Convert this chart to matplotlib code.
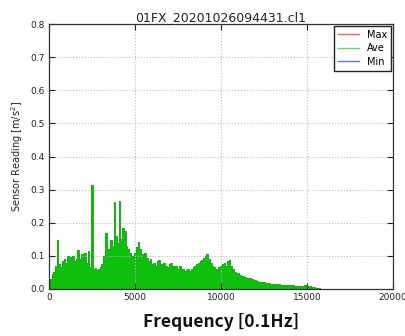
import matplotlib
matplotlib.use("Agg")
import matplotlib.pyplot as plt
import numpy as np

# Spectrum readings, one value per 100 x 0.1Hz bin (0 .. 16000)
freq = np.arange(0, 16001, 100)
ave = [
    0.010, 0.030, 0.045, 0.050, 0.070, 0.148, 0.075, 0.065, 0.085, 0.090,
    0.080, 0.100, 0.098, 0.095, 0.100, 0.085, 0.090, 0.118, 0.090, 0.105,
    0.085, 0.110, 0.080, 0.115, 0.065, 0.315, 0.060, 0.062, 0.058, 0.060,
    0.065, 0.075, 0.100, 0.170, 0.115, 0.120, 0.148, 0.130, 0.263, 0.160,
    0.140, 0.266, 0.150, 0.185, 0.175, 0.130, 0.120, 0.110, 0.095, 0.100,
    0.110, 0.128, 0.143, 0.120, 0.105, 0.100, 0.110, 0.095, 0.085, 0.090,
    0.075, 0.080, 0.070, 0.085, 0.088, 0.075, 0.072, 0.080, 0.070, 0.065,
    0.075, 0.080, 0.070, 0.065, 0.070, 0.060, 0.068, 0.055, 0.060, 0.055,
    0.058, 0.060, 0.055, 0.060, 0.065, 0.070, 0.075, 0.080, 0.085, 0.088,
    0.095, 0.100, 0.105, 0.090, 0.080, 0.070, 0.065, 0.060, 0.058, 0.065,
    0.070, 0.075, 0.080, 0.070, 0.085, 0.088, 0.070, 0.060, 0.050, 0.045,
    0.048, 0.042, 0.040, 0.038, 0.035, 0.033, 0.030, 0.032, 0.030, 0.027,
    0.028, 0.025, 0.022, 0.022, 0.020, 0.020, 0.018, 0.018, 0.017, 0.016,
    0.016, 0.015, 0.015, 0.014, 0.014, 0.013, 0.013, 0.012, 0.012, 0.012,
    0.011, 0.011, 0.011, 0.010, 0.010, 0.010, 0.010, 0.010, 0.010, 0.011,
    0.010, 0.009, 0.008, 0.006, 0.005, 0.004, 0.003, 0.002, 0.0015, 0.001,
    0.0005,
]

title = "01FX_20201026094431.cl1"
xticks = [0, 5000, 10000, 15000, 20000]
yticks = [0.0, 0.1, 0.2, 0.3, 0.4, 0.5, 0.6, 0.7, 0.8]
series_names = ["Max", "Ave", "Min"]
series_colors = ["#e86a6a", "#6ad26a", "#7070e0"]
green = "#0cc00c"

fig = plt.figure(figsize=(4.05, 3.36), dpi=100)
ax = fig.add_axes([49 / 405, 1 - 289 / 336, 344 / 405, 265 / 336])

ax.fill_between(freq, 0, ave, step="mid", color=green, linewidth=0)
ax.step(freq, ave, where="mid", color="#12b012", linewidth=0.7)

# legend entries
handles = []
for name, c in zip(series_names, series_colors):
    h, = ax.plot([], [], color=c, linewidth=1.0, label=name)
    handles.append(h)
leg = ax.legend(handles=handles, loc="upper right", fontsize=7,
                fancybox=False, framealpha=1, edgecolor="#222222",
                borderaxespad=0.2, handlelength=2.2, labelspacing=0.35,
                borderpad=0.4, handletextpad=0.8)
leg.get_frame().set_linewidth(1.0)

ax.set_xlim(0, 20000)
ax.set_ylim(0, 0.8)
ax.set_xticks(xticks)
ax.set_yticks(yticks)
ax.set_yticklabels([f"{v:.1f}" for v in yticks])
ax.tick_params(direction="in", length=4, width=0.8, labelsize=6.5,
               colors="#222222", top=True, right=True, pad=3)
ax.grid(True, linestyle=":", color="#bbbbbb", linewidth=0.8)
for s in ax.spines.values():
    s.set_color("#333333")
    s.set_linewidth(0.9)

ax.set_title(title, fontsize=9, pad=2, color="#222222")
ax.set_ylabel("Sensor Reading [m/s$^2$]", fontsize=7, color="#222222", labelpad=4)
fig.text(221 / 405, 1 - 322 / 336, "Frequency [0.1Hz]", ha="center", va="center",
         fontsize=12.5, fontweight="bold", family=["Noto Sans CJK JP", "DejaVu Sans"],
         color="#111111")

fig.savefig("out.png", dpi=100)
